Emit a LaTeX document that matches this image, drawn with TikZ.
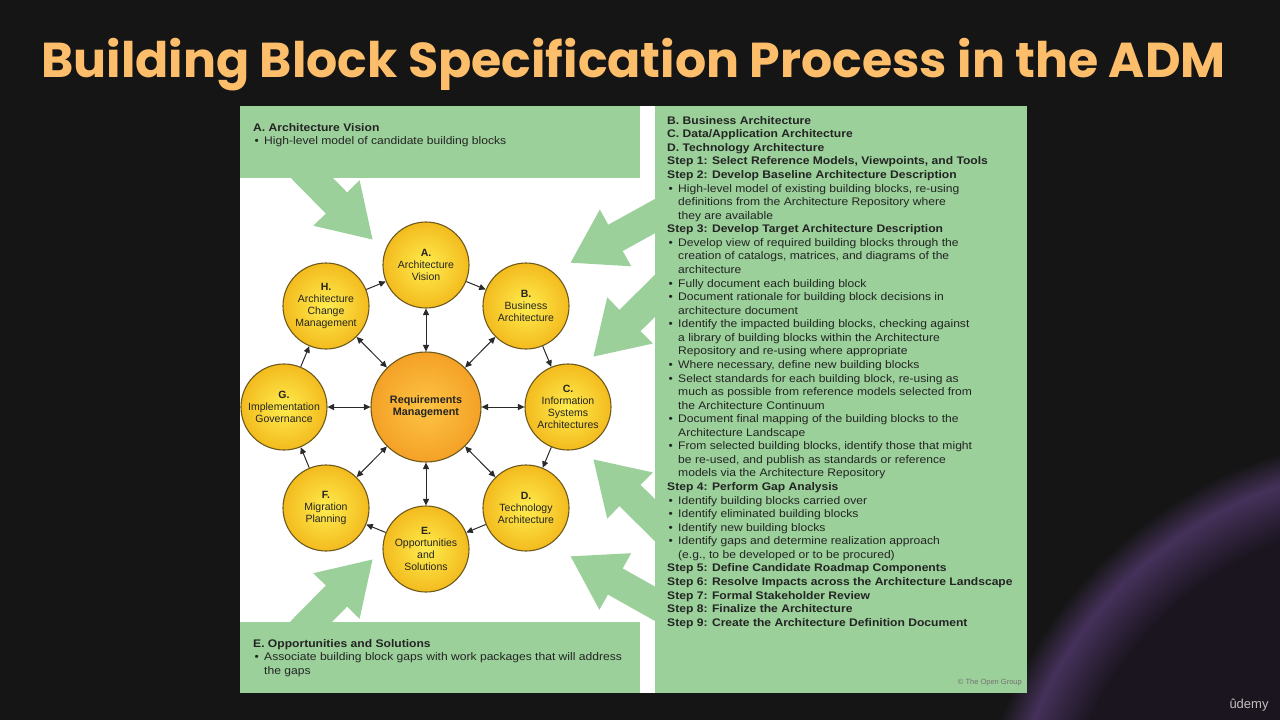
\documentclass[tikz,border=0pt]{standalone}
\usepackage{fontspec}
\setmainfont{Liberation Sans}
\newfontfamily\titlefont{Poppins}
\newfontfamily\bodyfont{Liberation Sans}[FakeStretch=1.1]
\usepackage{tikz}
\usetikzlibrary{arrows.meta,calc,positioning}
\definecolor{bgCol}{HTML}{151515}
\definecolor{deepCol}{HTML}{1B1520}
\definecolor{glowCol}{HTML}{45315A}
\definecolor{ttlCol}{HTML}{FDBE6C}
\definecolor{panelCol}{HTML}{9BD09A}
\definecolor{txtCol}{HTML}{242424}
\definecolor{rimCol}{HTML}{6E5A1C}
\definecolor{phIn}{HTML}{FFEC4E}
\definecolor{phOut}{HTML}{F3BB1E}
\definecolor{rqIn}{HTML}{FDC444}
\definecolor{rqOut}{HTML}{F4A127}
\definecolor{inkCol}{HTML}{2A2A2A}
\pgfdeclareradialshading{planet}{\pgfpoint{0bp}{0bp}}{%
  color(0bp)=(deepCol); color(17bp)=(deepCol); color(19.5bp)=(glowCol);
  color(21bp)=(bgCol); color(25bp)=(bgCol); color(50bp)=(bgCol)}
\newcommand{\hd}[1]{\textbf{#1}}
\newcommand{\bl}[1]{\makebox[11pt][l]{\hspace{1.5pt}\textbullet}#1}
\newcommand{\cl}[1]{\hspace*{11pt}#1}
\tikzset{
  phase/.style={circle, draw=rimCol, line width=1.1pt, inner color=phIn, outer color=phOut,
                minimum size=86pt, inner sep=0pt, align=center,
                font=\fontsize{10.5}{12}\selectfont, text=txtCol},
  reqs/.style={phase, inner color=rqIn, outer color=rqOut, minimum size=110pt,
               font=\fontsize{10.8}{12}\selectfont\bfseries},
  ring/.style={-{Triangle[length=6.5pt,width=6pt]}, line width=1pt, inkCol},          % phase to next phase
  spoke/.style={{Triangle[length=6.5pt,width=6pt]}-{Triangle[length=6.5pt,width=6pt]},
                line width=1pt, inkCol},                                              % requirements link
  flow/.style={-{Triangle[length=52pt,width=61pt]}, line width=30pt, panelCol},       % big green arrow
  box/.style={fill=panelCol, draw=none},
  boxtext/.style={anchor=north west, inner sep=0pt, align=left, text=txtCol,
                  font=\bodyfont\fontsize{11}{13.57}\selectfont},
}
\begin{document}
\begin{tikzpicture}[x=1pt,y=-1pt]
  \useasboundingbox (0,0) rectangle (1280,720);
  \fill[bgCol] (0,0) rectangle (1280,720);
  \begin{scope}
    \clip (0,0) rectangle (1280,720);
    \shade[shading=planet] (1410,870) circle (520pt);
  \end{scope}

  \node[font=\titlefont\bfseries\fontsize{49}{56}\selectfont, text=ttlCol, anchor=base]
    (title) at (633.5,77) {Building Block Specification Process in the ADM};

  % panels
  \fill[white] (240,106) rectangle (655,693);
  \fill[box] (655,106) rectangle (1027,693);
  \fill[box] (240,106) rectangle (640,178);
  \fill[box] (240,622) rectangle (640,693);

  % big arrows into the cycle
  \coordinate (t1) at (302,168);  \coordinate (h1) at (373,240);
  \coordinate (t2) at (301,632);  \coordinate (h2) at (373,559);
  \coordinate (t3) at (666,210);  \coordinate (h3) at (570,263);
  \coordinate (t4) at (671,280);  \coordinate (h4) at (593,357);
  \coordinate (t5) at (671,536);  \coordinate (h5) at (593,459);
  \coordinate (t6) at (666,610);  \coordinate (h6) at (570,556);
  \foreach \k in {1,...,6}{\draw[flow] (t\k) -- (h\k);}

  % ADM cycle
  \node[reqs]  (rm) at (426,407) {Requirements\\Management};
  \node[phase] (a)  at (426,265) {\textbf{A.}\\Architecture\\Vision};
  \node[phase] (b)  at (526,306) {\textbf{B.}\\Business\\Architecture};
  \node[phase] (c)  at (568,407) {\textbf{C.}\\Information\\Systems\\Architectures};
  \node[phase] (d)  at (526,508) {\textbf{D.}\\Technology\\Architecture};
  \node[phase] (e)  at (426,549) {\textbf{E.}\\Opportunities\\and\\Solutions};
  \node[phase] (f)  at (326,508) {\textbf{F.}\\Migration\\Planning};
  \node[phase] (g)  at (284,407) {\textbf{G.}\\Implementation\\Governance};
  \node[phase] (h)  at (326,306) {\textbf{H.}\\Architecture\\Change\\Management};
  \foreach \u/\v in {h/a,a/b,b/c,c/d,d/e,e/f,f/g,g/h}{\draw[ring] (\u) -- (\v);}
  \foreach \p in {a,b,c,d,e,f,g,h}{\draw[spoke] (rm) -- (\p);}

  % box texts
  \node[boxtext] (avtxt) at (253,123) {\hd{A. Architecture Vision}\\
    \bl{High-level model of candidate building blocks}};
  \node[boxtext] (ostxt) at (253,639) {\hd{E. Opportunities and Solutions}\\
    \bl{Associate building block gaps with work packages that will address}\\
    \cl{the gaps}};
  \node[boxtext] (steps) at (667,116) {%
    \hd{B. Business Architecture}\\
    \hd{C. Data/Application Architecture}\\
    \hd{D. Technology Architecture}\\
    \hd{Step 1: Select Reference Models, Viewpoints, and Tools}\\
    \hd{Step 2: Develop Baseline Architecture Description}\\
    \bl{High-level model of existing building blocks, re-using}\\
    \cl{definitions from the Architecture Repository where}\\
    \cl{they are available}\\
    \hd{Step 3: Develop Target Architecture Description}\\
    \bl{Develop view of required building blocks through the}\\
    \cl{creation of catalogs, matrices, and diagrams of the}\\
    \cl{architecture}\\
    \bl{Fully document each building block}\\
    \bl{Document rationale for building block decisions in}\\
    \cl{architecture document}\\
    \bl{Identify the impacted building blocks, checking against}\\
    \cl{a library of building blocks within the Architecture}\\
    \cl{Repository and re-using where appropriate}\\
    \bl{Where necessary, define new building blocks}\\
    \bl{Select standards for each building block, re-using as}\\
    \cl{much as possible from reference models selected from}\\
    \cl{the Architecture Continuum}\\
    \bl{Document final mapping of the building blocks to the}\\
    \cl{Architecture Landscape}\\
    \bl{From selected building blocks, identify those that might}\\
    \cl{be re-used, and publish as standards or reference}\\
    \cl{models via the Architecture Repository}\\
    \hd{Step 4: Perform Gap Analysis}\\
    \bl{Identify building blocks carried over}\\
    \bl{Identify eliminated building blocks}\\
    \bl{Identify new building blocks}\\
    \bl{Identify gaps and determine realization approach}\\
    \cl{(e.g., to be developed or to be procured)}\\
    \hd{Step 5: Define Candidate Roadmap Components}\\
    \hd{Step 6: Resolve Impacts across the Architecture Landscape}\\
    \hd{Step 7: Formal Stakeholder Review}\\
    \hd{Step 8: Finalize the Architecture}\\
    \hd{Step 9: Create the Architecture Definition Document}};
  \node[anchor=east, inner sep=0pt, font=\fontsize{7.5}{9}\selectfont, text=black!55]
    (copy) at (1022,683) {\textcopyright\ The Open Group};
  \node[font=\fontsize{13}{15}\selectfont, text=black!25, inner sep=0pt]
    (logo) at (1249,705) {ûdemy};
\end{tikzpicture}
\end{document}
